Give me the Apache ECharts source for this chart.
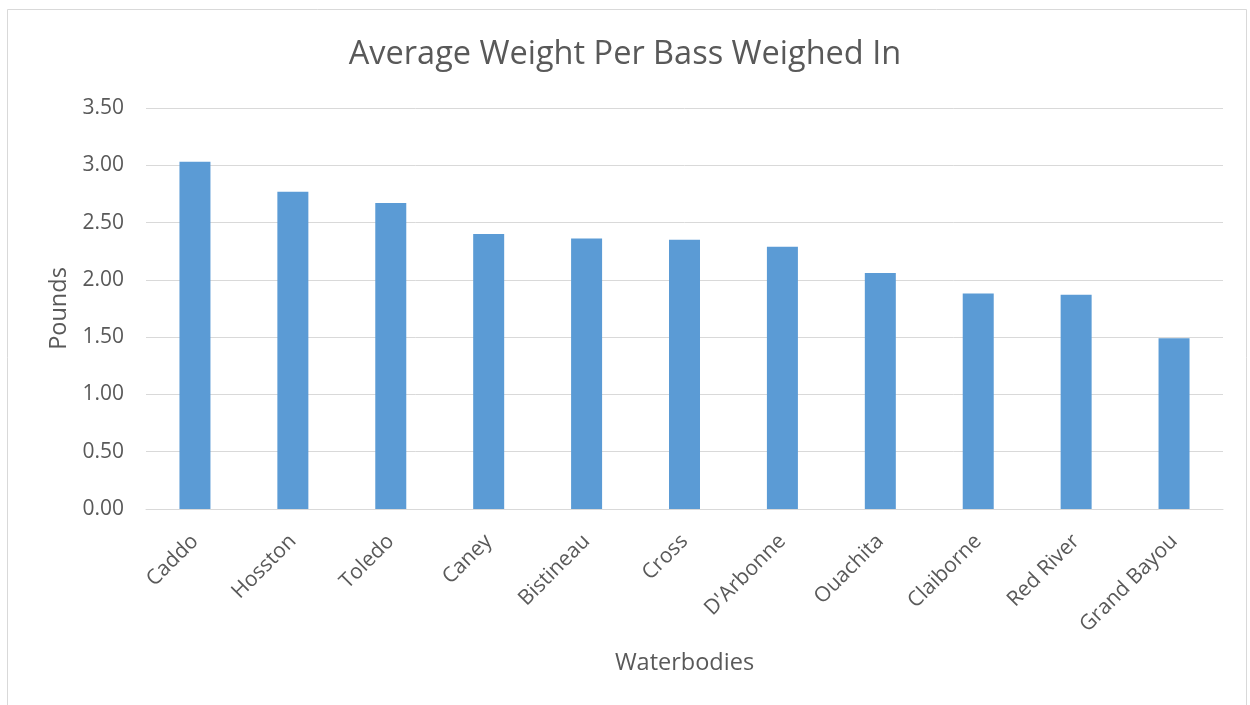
<!DOCTYPE html>
<html>
<head>
<meta charset="utf-8">
<script src="https://cdn.jsdelivr.net/npm/echarts@6/dist/echarts.min.js"></script>
<style>
html,body{margin:0;padding:0;background:#fff;}
#chart{width:1250px;height:705px;}
</style>
</head>
<body>
<div id="chart"></div>
<script>
const categories = ['Caddo','Hosston','Toledo','Caney','Bistineau','Cross',"D'Arbonne",'Ouachita','Claiborne','Red River','Grand Bayou'];
const pounds = [3.03, 2.77, 2.67, 2.40, 2.36, 2.35, 2.29, 2.06, 1.88, 1.87, 1.49];
const yTicks = {min: 0, max: 3.5, interval: 0.5};

const FONT = '"Open Sans", "Liberation Sans", sans-serif';
const chart = echarts.init(document.getElementById('chart'));
chart.setOption({
  animation: false,
  backgroundColor: '#ffffff',
  graphic: [{
    type: 'rect',
    shape: {x: 7.5, y: 9.5, width: 1239, height: 720},
    style: {fill: 'none', stroke: '#d9d9d9', lineWidth: 1},
    silent: true
  }],
  title: {
    text: 'Average Weight Per Bass Weighed In',
    left: 'center',
    top: 33,
    textStyle: {fontFamily: FONT, fontSize: 32.5, fontWeight: 'normal', color: '#595959'}
  },
  grid: {left: 146, right: 27, top: 108, bottom: 196, containLabel: false},
  xAxis: {
    type: 'category',
    data: categories,
    name: 'Waterbodies',
    nameLocation: 'middle',
    nameGap: 142,
    nameTextStyle: {fontFamily: FONT, fontSize: 23.5, color: '#595959'},
    axisLine: {show: true, lineStyle: {color: '#d9d9d9', width: 1}},
    axisTick: {show: false},
    axisLabel: {rotate: 45, fontFamily: FONT, fontSize: 21, color: '#595959', margin: 29, interval: 0}
  },
  yAxis: {
    type: 'value',
    min: yTicks.min,
    max: yTicks.max,
    interval: yTicks.interval,
    name: 'Pounds',
    nameLocation: 'middle',
    nameGap: 75,
    nameTextStyle: {fontFamily: FONT, fontSize: 23.5, color: '#595959'},
    axisLine: {show: false},
    axisTick: {show: false},
    splitLine: {lineStyle: {color: '#d9d9d9', width: 1}},
    axisLabel: {fontFamily: FONT, fontSize: 21, color: '#595959', margin: 22,
      formatter: v => v.toFixed(2)}
  },
  series: [{
    type: 'bar',
    data: pounds,
    barWidth: 31,
    itemStyle: {color: '#5b9bd5'}
  }]
});
</script>
</body>
</html>
